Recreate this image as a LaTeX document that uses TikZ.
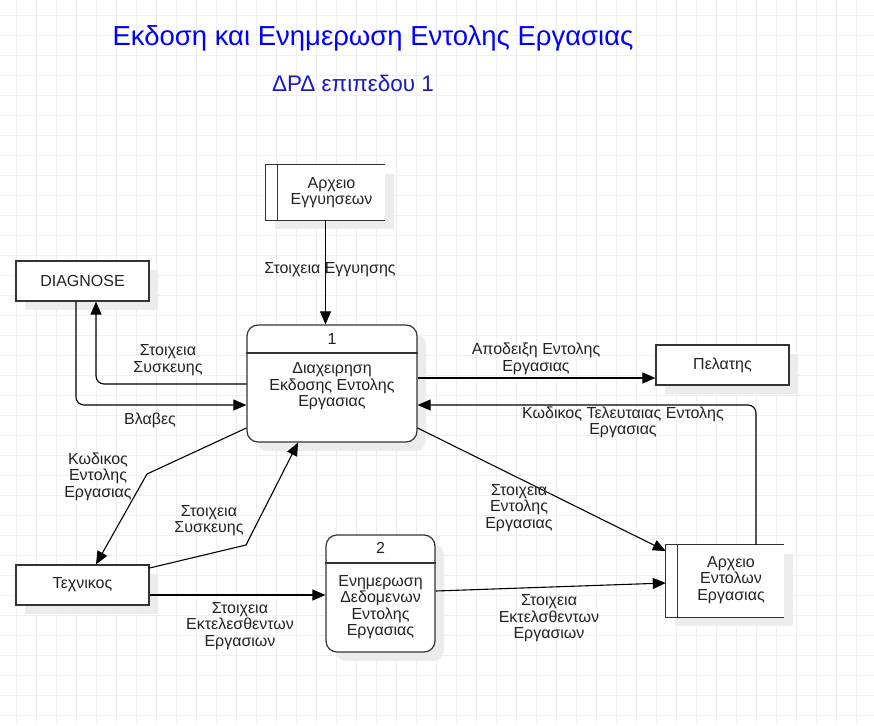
\documentclass[tikz,border=0pt]{standalone}
\usepackage{fontspec}
\setmainfont{Liberation Sans}
\usetikzlibrary{arrows.meta,shadows,calc}
\definecolor{gridc}{HTML}{EFEFEF}
\definecolor{linec}{HTML}{333333}
\definecolor{textc}{HTML}{222222}
\definecolor{titlec}{HTML}{0000FF}
\definecolor{subc}{HTML}{1A1AC0}
\definecolor{shadc}{HTML}{ECECEC}
\tikzset{
  shad/.style={drop shadow={shadow xshift=9pt, shadow yshift=-9pt, fill=shadc, opacity=1}},
  ent/.style={draw=linec, line width=1.2pt, fill=white, minimum width=133pt, minimum height=40pt, inner sep=0pt, shad},
  proc/.style={draw=linec, line width=1.2pt, fill=white, rounded corners=11pt, inner sep=0pt, shad},
  store/.style={fill=white, draw=none, inner sep=0pt, shad},
  sline/.style={draw=linec, line width=1.2pt},
  flow/.style={draw=black, line width=1.1pt, -{Triangle[length=13pt,width=11pt]}},
  lbl/.style={align=center, inner sep=0pt},
}
\begin{document}
\begin{tikzpicture}[x=1pt,y=-1pt, every node/.style={font=\fontsize{16pt}{16.5pt}\selectfont, text=textc}]
\useasboundingbox (0,0) rectangle (874,725);
\fill[white] (0,0) rectangle (874,725);
\foreach \i in {0,...,42} \draw[gridc, line width=0.8pt] (16+20*\i,0) -- (16+20*\i,725);
\foreach \j in {0,...,35} \draw[gridc, line width=0.8pt] (0,15+20*\j) -- (874,15+20*\j);

% title
\node[inner sep=0pt, font=\fontsize{27.5pt}{30pt}\selectfont, text=titlec] (title) at (373,38) {Εκδοση και Ενημερωση Εντολης Εργασιας};
\node[inner sep=0pt, font=\fontsize{22.5pt}{26pt}\selectfont, text=subc] (subtitle) at (353,83) {ΔΡΔ επιπεδου 1};

% entities
\node[ent] (diag) at (82.5,281) {DIAGNOSE};
\node[ent] (pel) at (722.5,365) {Πελατης};
\node[ent] (tech) at (82.5,585) {Τεχνικος};

% data store 1
\node[store, minimum width=119pt, minimum height=55pt] (st1) at (325.5,192.5) {};
\draw[sline] (st1.north east) -- (st1.north west) -- (st1.south west) -- (st1.south east);
\draw[sline] ([xshift=12pt]st1.north west) -- ([xshift=12pt]st1.south west);
\node[lbl] (st1t) at (331.5,192.5) {Αρχειο\\Εγγυησεων};

% data store 2
\node[store, minimum width=118pt, minimum height=72pt] (st2) at (725,581) {};
\draw[sline] (st2.north east) -- (st2.north west) -- (st2.south west) -- (st2.south east);
\draw[sline] ([xshift=12pt]st2.north west) -- ([xshift=12pt]st2.south west);
\node[lbl] (st2t) at (731,580) {Αρχειο\\Εντολων\\Εργασιας};

% process 1
\node[proc, minimum width=170pt, minimum height=117pt] (p1) at (332,383.5) {};
\draw[sline] (p1.west |- 0,353) -- (p1.east |- 0,353);
\node[lbl] (p1n) at (332,339) {1};
\node[lbl] (p1t) at (332,386.5) {Διαχειρηση\\Εκδοσης Εντολης\\Εργασιας};

% process 2
\node[proc, minimum width=109pt, minimum height=117pt] (p2) at (380.5,593.5) {};
\draw[sline] (p2.west |- 0,563) -- (p2.east |- 0,563);
\node[lbl] (p2n) at (380.5,548) {2};
\node[lbl] (p2t) at (380.5,607) {Ενημερωση\\Δεδομενων\\Εντολης\\Εργασιας};

% flows
\draw[flow] (st1.south) -- (st1.south |- p1.north);
\draw[flow, rounded corners=8pt] (p1.west |- 0,384) -| (diag.south -| 96,0);
\draw[flow, rounded corners=8pt] (diag.south -| 76,0) |- (p1.west |- 0,405);
\draw[flow] (p1.east |- 0,378) -- (pel.west |- 0,378);
\draw[flow, rounded corners=8pt] (st2.north -| 756,0) |- (p1.east |- 0,405);
\draw[flow] (p1.west |- 0,428) -- (147,474) -- (tech.north -| 96,0);
\draw[flow] (tech.east |- 0,568) -- (246,545) -- (p1.south -| 298,0);
\draw[flow] (tech.east |- 0,595) -- (p2.west |- 0,595);
\draw[flow] (p2.east |- 0,591) -- (st2.west |- 0,583);
\draw[flow] (p1.east |- 0,428) -- (st2.west |- 0,551);

% labels
\node[lbl] (l1) at (330,270) {Στοιχεια Εγγυησης};
\node[lbl] (l2) at (168,360) {Στοιχεια\\Συσκευης};
\node[lbl] (l3) at (150,420) {Βλαβες};
\node[lbl] (l4) at (536,359) {Αποδειξη Εντολης\\Εργασιας};
\node[lbl] (l5) at (623,422.5) {Κωδικος Τελευταιας Εντολης\\Εργασιας};
\node[lbl] (l6) at (98,476.5) {Κωδικος\\Εντολης\\Εργασιας};
\node[lbl] (l7) at (209,520.5) {Στοιχεια\\Συσκευης};
\node[lbl] (l8) at (240,626) {Στοιχεια\\Εκτελεσθεντων\\Εργασιων};
\node[lbl] (l9) at (549,618.5) {Στοιχεια\\Εκτελσθεντων\\Εργασιων};
\node[lbl] (l10) at (519,508) {Στοιχεια\\Εντολης\\Εργασιας};
\end{tikzpicture}
\end{document}
